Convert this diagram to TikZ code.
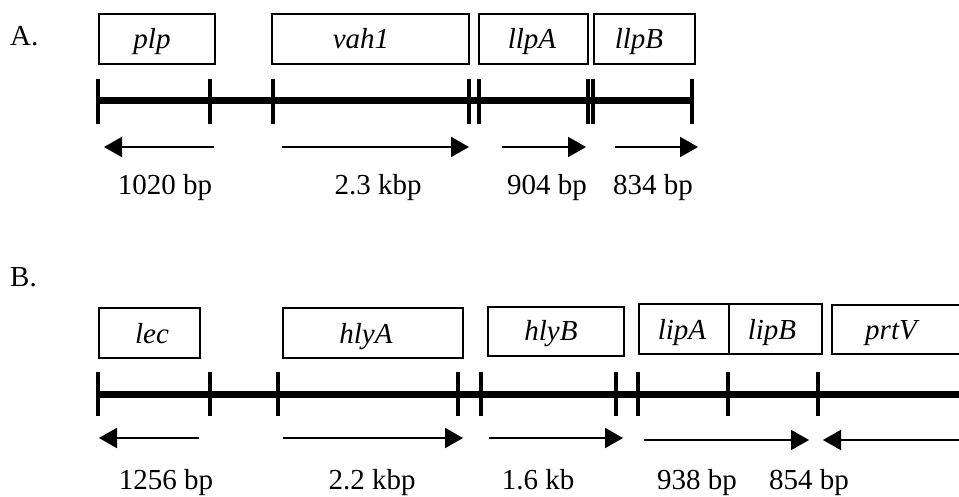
\documentclass[tikz,border=0pt]{standalone}
\usepackage{fontspec}
\setmainfont{Liberation Serif}
\usetikzlibrary{arrows.meta}
\begin{document}
\begin{tikzpicture}[x=1pt,y=-1pt,
  genebox/.style={draw,line width=1.6pt,inner sep=0pt,anchor=north west},
  genename/.style={font=\fontsize{29}{32}\selectfont\itshape,anchor=base,inner sep=0pt},
  sizelabel/.style={font=\fontsize{29}{32}\selectfont,anchor=base,inner sep=0pt},
  panel/.style={font=\fontsize{29}{32}\selectfont,anchor=base west,inner sep=0pt},
  dnaline/.style={line width=7pt},
  tickmark/.style={line width=3.8pt},
  orf/.style={line width=2pt,-{Triangle[length=18pt,width=20pt]}}]
\useasboundingbox (0,0) rectangle (959,497);
\clip (0,0) rectangle (959,497);
% ---------- Panel A ----------
\node[panel] (lblA) at (10,46) {A.};
\node[genebox,minimum width=116,minimum height=50] (plp) at (98,13) {};
\node[genebox,minimum width=197,minimum height=50] (vah) at (271,13) {};
\node[genebox,minimum width=109,minimum height=50] (llpA) at (478,13) {};
\node[genebox,minimum width=101,minimum height=50] (llpB) at (593,13) {};
\node[genename] (tplp) at (152,49) {plp};
\node[genename] (tvah) at (361,49) {vah1};
\node[genename] (tllpA) at (532,49) {llpA};
\node[genename] (tllpB) at (639,49) {llpB};
\draw[dnaline] (98,101) -- (692,101);
\foreach \x in {98,210,273,469,479,588,593,692}
  \draw[tickmark] (\x,79) -- (\x,124);
\coordinate (a1s) at (214,147); \coordinate (a1e) at (104,147);
\coordinate (a2s) at (282,147); \coordinate (a2e) at (469,147);
\coordinate (a3s) at (502,147); \coordinate (a3e) at (586,147);
\coordinate (a4s) at (615,147); \coordinate (a4e) at (698,147);
\draw[orf] (a1s) -- (a1e);
\draw[orf] (a2s) -- (a2e);
\draw[orf] (a3s) -- (a3e);
\draw[orf] (a4s) -- (a4e);
\node[sizelabel] (s1) at (165,195) {1020 bp};
\node[sizelabel] (s2) at (378,195) {2.3 kbp};
\node[sizelabel] (s3) at (547,195) {904 bp};
\node[sizelabel] (s4) at (653,195) {834 bp};
% ---------- Panel B ----------
\node[panel] (lblB) at (10,287) {B.};
\node[genebox,minimum width=101,minimum height=50] (lec) at (98,307) {};
\node[genebox,minimum width=180,minimum height=50] (hlyA) at (282,307) {};
\node[genebox,minimum width=136,minimum height=49] (hlyB) at (487,306) {};
\node[genebox,minimum width=90,minimum height=50] (lipA) at (638,303) {};
\node[genebox,minimum width=93,minimum height=50] (lipB) at (728,303) {};
\node[genebox,minimum width=160,minimum height=49] (prtV) at (831,304) {};
\node[genename] (tlec) at (152,343) {lec};
\node[genename] (thlyA) at (366,343) {hlyA};
\node[genename] (thlyB) at (551,341) {hlyB};
\node[genename] (tlipA) at (682,339) {lipA};
\node[genename] (tlipB) at (772,339) {lipB};
\node[genename] (tprtV) at (891,339) {prtV};
\draw[dnaline] (98,394) -- (970,394);
\foreach \x in {98,210,278,458,481,616,638,728,818}
  \draw[tickmark] (\x,372) -- (\x,416);
\coordinate (b1s) at (199,438); \coordinate (b1e) at (99,438);
\coordinate (b2s) at (283,438); \coordinate (b2e) at (463,438);
\coordinate (b3s) at (489,438); \coordinate (b3e) at (623,438);
\coordinate (b4s) at (644,440); \coordinate (b4e) at (809,440);
\coordinate (b5s) at (965,440); \coordinate (b5e) at (823,440);
\draw[orf] (b1s) -- (b1e);
\draw[orf] (b2s) -- (b2e);
\draw[orf] (b3s) -- (b3e);
\draw[orf] (b4s) -- (b4e);
\draw[orf] (b5s) -- (b5e);
\node[sizelabel] (t1) at (166,489) {1256 bp};
\node[sizelabel] (t2) at (372,489) {2.2 kbp};
\node[sizelabel] (t3) at (538,489) {1.6 kb};
\node[sizelabel] (t4) at (697,489) {938 bp};
\node[sizelabel] (t5) at (809,489) {854 bp};
\end{tikzpicture}
\end{document}
